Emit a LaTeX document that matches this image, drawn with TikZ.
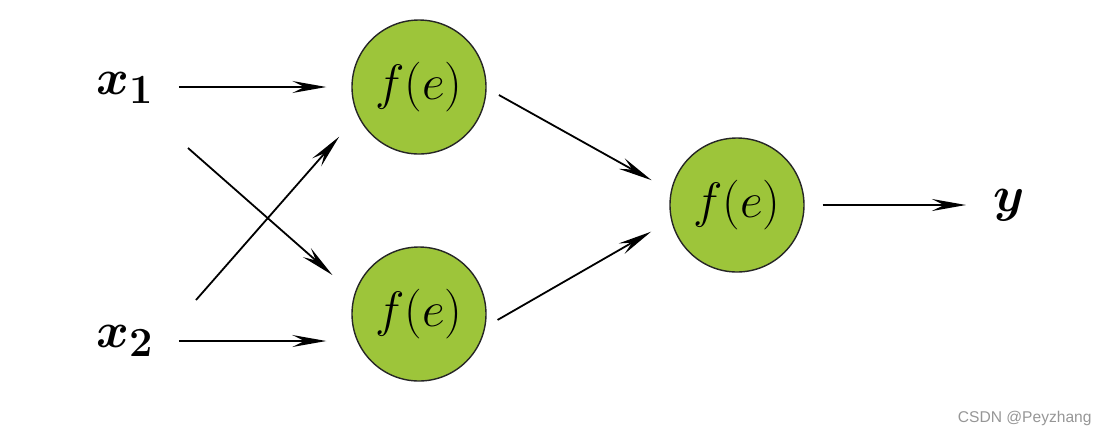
\documentclass[tikz,border=0pt]{standalone}
\usepackage{amsmath,bm}
\usepackage{fontspec}
\usetikzlibrary{arrows.meta}
\newfontfamily\wmfont{Liberation Sans}
\definecolor{nodegreen}{RGB}{157,197,58}
\definecolor{wmgray}{RGB}{150,150,150}
\begin{document}
\begin{tikzpicture}[x=0.5pt,y=-0.5pt,
  neuron/.style={circle,draw=black!85,line width=0.7pt,fill=nodegreen,minimum size=67pt,inner sep=0pt,font=\fontsize{25}{29}\selectfont},
  inlabel/.style={inner sep=0pt,font=\fontsize{29}{33}\selectfont\boldmath},
  arr/.style={-{Stealth[length=17pt,width=6pt,inset=6pt]},line width=0.9pt}]
\useasboundingbox (0,0) rectangle (1099,436);
\node[neuron] (h1) at (419,87) {$f(e)$};
\node[neuron] (h2) at (419,314) {$f(e)$};
\node[neuron] (o) at (737,205) {$f(e)$};
\node[inlabel] (x1) at (125,88) {$x_1$};
\node[inlabel] (x2) at (125,341) {$x_2$};
\node[inlabel] (y) at (1009,205) {$y$};
\node[font=\wmfont\fontsize{7.8}{9}\selectfont, text=wmgray, anchor=east, inner sep=0pt] (wm) at (1092,418) {CSDN @Peyzhang};
\draw[arr, shorten <=12.5pt, shorten >=12.5pt] (x1.east |- h1.west) -- (h1.west);
\draw[arr, shorten <=12.5pt, shorten >=12.5pt] (x2.east) -- (x2.east -| h2.west);
\draw[arr, shorten >=14.5pt] ([shift={(63,60)}]x1.center) -- (h2.163);
\draw[arr, shorten >=14pt] ([shift={(71,-41)}]x2.center) -- (h1.205);
\draw[arr, shorten <=7pt, shorten >=11pt] (h1.-1) -- (o.168);
\draw[arr, shorten <=7pt, shorten >=11.5pt] (h2.-11) -- (o.193.5);
\draw[arr, shorten <=9pt, shorten >=13.5pt] (o.east) -- (o.east -| y.west);
\end{tikzpicture}
\end{document}
